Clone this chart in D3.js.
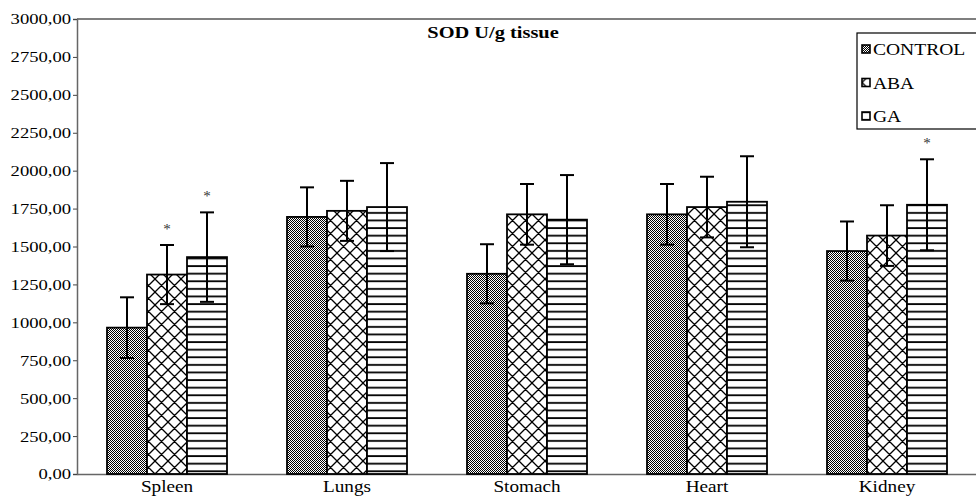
<!DOCTYPE html>
<html>
<head>
<meta charset="utf-8">
<script src="https://cdn.jsdelivr.net/npm/d3@7"></script>
<style>
  body { margin: 0; background: #fff; }
  svg { display: block; }
  svg text { font-family: 'Liberation Serif', 'Times New Roman', serif; }
</style>
</head>
<body>
<div id="chart"></div>
<script>
// Data
const categories = ['Spleen', 'Lungs', 'Stomach', 'Heart', 'Kidney'];
const seriesNames = ['CONTROL', 'ABA', 'GA'];
const controlMean = [965, 1695, 1320, 1712, 1470];
const controlErr = [200, 195, 195, 200, 195];
const abaMean = [1315, 1735, 1712, 1760, 1572];
const abaErr = [195, 198, 200, 200, 200];
const gaMean = [1430, 1760, 1677, 1795, 1775];
const gaErr = [295, 290, 294, 300, 300];
// significance marks (*) per series
const controlSig = [false, false, false, false, false];
const abaSig = [true, false, false, false, false];
const gaSig = [true, false, false, false, true];
const yTickValues = [0, 250, 500, 750, 1000, 1250, 1500, 1750, 2000, 2250, 2500, 2750, 3000];
const yTickLabels = ['0,00', '250,00', '500,00', '750,00', '1000,00', '1250,00', '1500,00',
  '1750,00', '2000,00', '2250,00', '2500,00', '2750,00', '3000,00'];
const title = 'SOD U/g tissue';

const W = 976;
const H = 496;
const margin = { top: 19, right: -1, bottom: 22, left: 77 };
const innerW = W - margin.left - margin.right;
const innerH = H - margin.top - margin.bottom;
const sx = 1.2; // horizontal stretch of the original text
const serif = "'Liberation Serif', 'Times New Roman', serif";

const series = [
  { name: seriesNames[0], mean: controlMean, err: controlErr, sig: controlSig, fill: 'url(#pCtrl)' },
  { name: seriesNames[1], mean: abaMean, err: abaErr, sig: abaSig, fill: 'url(#pAba)' },
  { name: seriesNames[2], mean: gaMean, err: gaErr, sig: gaSig, fill: 'url(#pGa)' },
];

const svg = d3.select('#chart').append('svg')
  .attr('width', W)
  .attr('height', H)
  .attr('font-family', serif);

// fill patterns
const defs = svg.append('defs');
const pCtrl = defs.append('pattern').attr('id', 'pCtrl')
  .attr('patternUnits', 'userSpaceOnUse').attr('width', 2).attr('height', 2);
pCtrl.append('rect').attr('width', 2).attr('height', 2).attr('fill', '#fff');
pCtrl.append('rect').attr('width', 1).attr('height', 1).attr('fill', '#000');
pCtrl.append('rect').attr('x', 1).attr('y', 1).attr('width', 1).attr('height', 1).attr('fill', '#000');

const pAba = defs.append('pattern').attr('id', 'pAba')
  .attr('patternUnits', 'userSpaceOnUse').attr('width', 13).attr('height', 13);
pAba.append('rect').attr('width', 13).attr('height', 13).attr('fill', '#fff');
pAba.append('path').attr('d', 'M0,0L13,13M13,0L0,13M-1,12L1,14M12,-1L14,1M-1,1L1,-1M12,14L14,12')
  .attr('stroke', '#000').attr('stroke-width', 1.3);

const pGa = defs.append('pattern').attr('id', 'pGa')
  .attr('patternUnits', 'userSpaceOnUse').attr('width', 10).attr('height', 7.6);
pGa.append('rect').attr('width', 10).attr('height', 7.6).attr('fill', '#fff');
pGa.append('rect').attr('y', 3).attr('width', 10).attr('height', 1.8).attr('fill', '#000');

const g = svg.append('g')
  .attr('transform', `translate(${margin.left},${margin.top})`);

// scales
const x0 = d3.scaleBand()
  .domain(categories)
  .range([0, innerW])
  .paddingInner(1 / 3)
  .paddingOuter(1 / 6);

const x1 = d3.scaleBand()
  .domain(seriesNames)
  .range([0, x0.bandwidth()]);

const y = d3.scaleLinear()
  .domain([0, 3000])
  .range([innerH, 0]);

// frame: top border
g.append('line')
  .attr('x1', 0).attr('x2', innerW + 5)
  .attr('y1', 0).attr('y2', 0)
  .attr('stroke', '#555').attr('stroke-width', 1.5);

// y axis
const yAxis = d3.axisLeft(y)
  .tickValues(yTickValues)
  .tickFormat((d, i) => yTickLabels[i])
  .tickSize(4)
  .tickPadding(2);

const yg = g.append('g').call(yAxis);
yg.attr('font-family', serif);
yg.select('.domain').attr('stroke', '#666').attr('stroke-width', 1.5);
yg.selectAll('.tick line').attr('stroke', '#444');
yg.selectAll('.tick text')
  .attr('font-size', 15.5)
  .attr('fill', '#000')
  .attr('x', -6 / sx)
  .attr('transform', `scale(${sx},1)`);

// x axis
const xAxis = d3.axisBottom(x0).tickSize(0).tickPadding(7);
const xg = g.append('g')
  .attr('transform', `translate(0,${innerH})`)
  .call(xAxis);
xg.attr('font-family', serif);
xg.select('.domain').attr('stroke', '#666').attr('stroke-width', 1.5);
xg.selectAll('.tick text')
  .attr('font-size', 16)
  .attr('fill', '#000')
  .attr('transform', `scale(${sx},1)`);

// bars
const groups = g.selectAll('.grp')
  .data(series)
  .join('g')
  .attr('class', 'grp');

groups.selectAll('rect')
  .data((s) => categories.map((c, i) => ({ c, s, v: s.mean[i] })))
  .join('rect')
  .attr('x', (d) => x0(d.c) + x1(d.s.name))
  .attr('y', (d) => y(d.v))
  .attr('width', x1.bandwidth())
  .attr('height', (d) => innerH - y(d.v))
  .attr('fill', (d) => d.s.fill)
  .attr('stroke', '#000')
  .attr('stroke-width', 1.8);

// error bars
const cap = 7;
const eb = groups.selectAll('.eb')
  .data((s) => categories.map((c, i) => ({ c, s, v: s.mean[i], e: s.err[i], sig: s.sig[i] })))
  .join('g')
  .attr('class', 'eb')
  .attr('transform', (d) => `translate(${x0(d.c) + x1(d.s.name) + x1.bandwidth() / 2},0)`);

eb.append('line')
  .attr('y1', (d) => y(d.v - d.e))
  .attr('y2', (d) => y(d.v + d.e))
  .attr('stroke', '#000').attr('stroke-width', 2);
eb.append('line')
  .attr('x1', -cap).attr('x2', cap)
  .attr('y1', (d) => y(d.v + d.e)).attr('y2', (d) => y(d.v + d.e))
  .attr('stroke', '#000').attr('stroke-width', 2);
eb.append('line')
  .attr('x1', -cap).attr('x2', cap)
  .attr('y1', (d) => y(d.v - d.e)).attr('y2', (d) => y(d.v - d.e))
  .attr('stroke', '#000').attr('stroke-width', 2);

eb.filter((d) => d.sig)
  .append('text')
  .attr('y', (d) => y(d.v + d.e) - 11)
  .attr('text-anchor', 'middle')
  .attr('font-size', 15)
  .attr('fill', '#333')
  .text('*');

// title
svg.append('text')
  .attr('transform', `translate(493,38) scale(${sx},1)`)
  .attr('text-anchor', 'middle')
  .attr('font-size', 17)
  .attr('font-weight', 'bold')
  .text(title);

// legend
const legend = svg.append('g').attr('transform', 'translate(857,33)');
legend.append('rect')
  .attr('width', 130).attr('height', 96)
  .attr('fill', '#fff')
  .attr('stroke', '#000').attr('stroke-width', 1.2);

const li = legend.selectAll('.li')
  .data(series)
  .join('g')
  .attr('class', 'li')
  .attr('transform', (d, i) => `translate(5,${16 + i * 33.5})`);

li.append('rect')
  .attr('y', -4)
  .attr('width', 8).attr('height', 8)
  .attr('fill', (d) => d.fill)
  .attr('stroke', '#000').attr('stroke-width', 1.6);

li.append('text')
  .attr('transform', `translate(11,6) scale(${sx - 0.05},1)`)
  .attr('font-size', 17)
  .text((d) => d.name);
</script>
</body>
</html>
